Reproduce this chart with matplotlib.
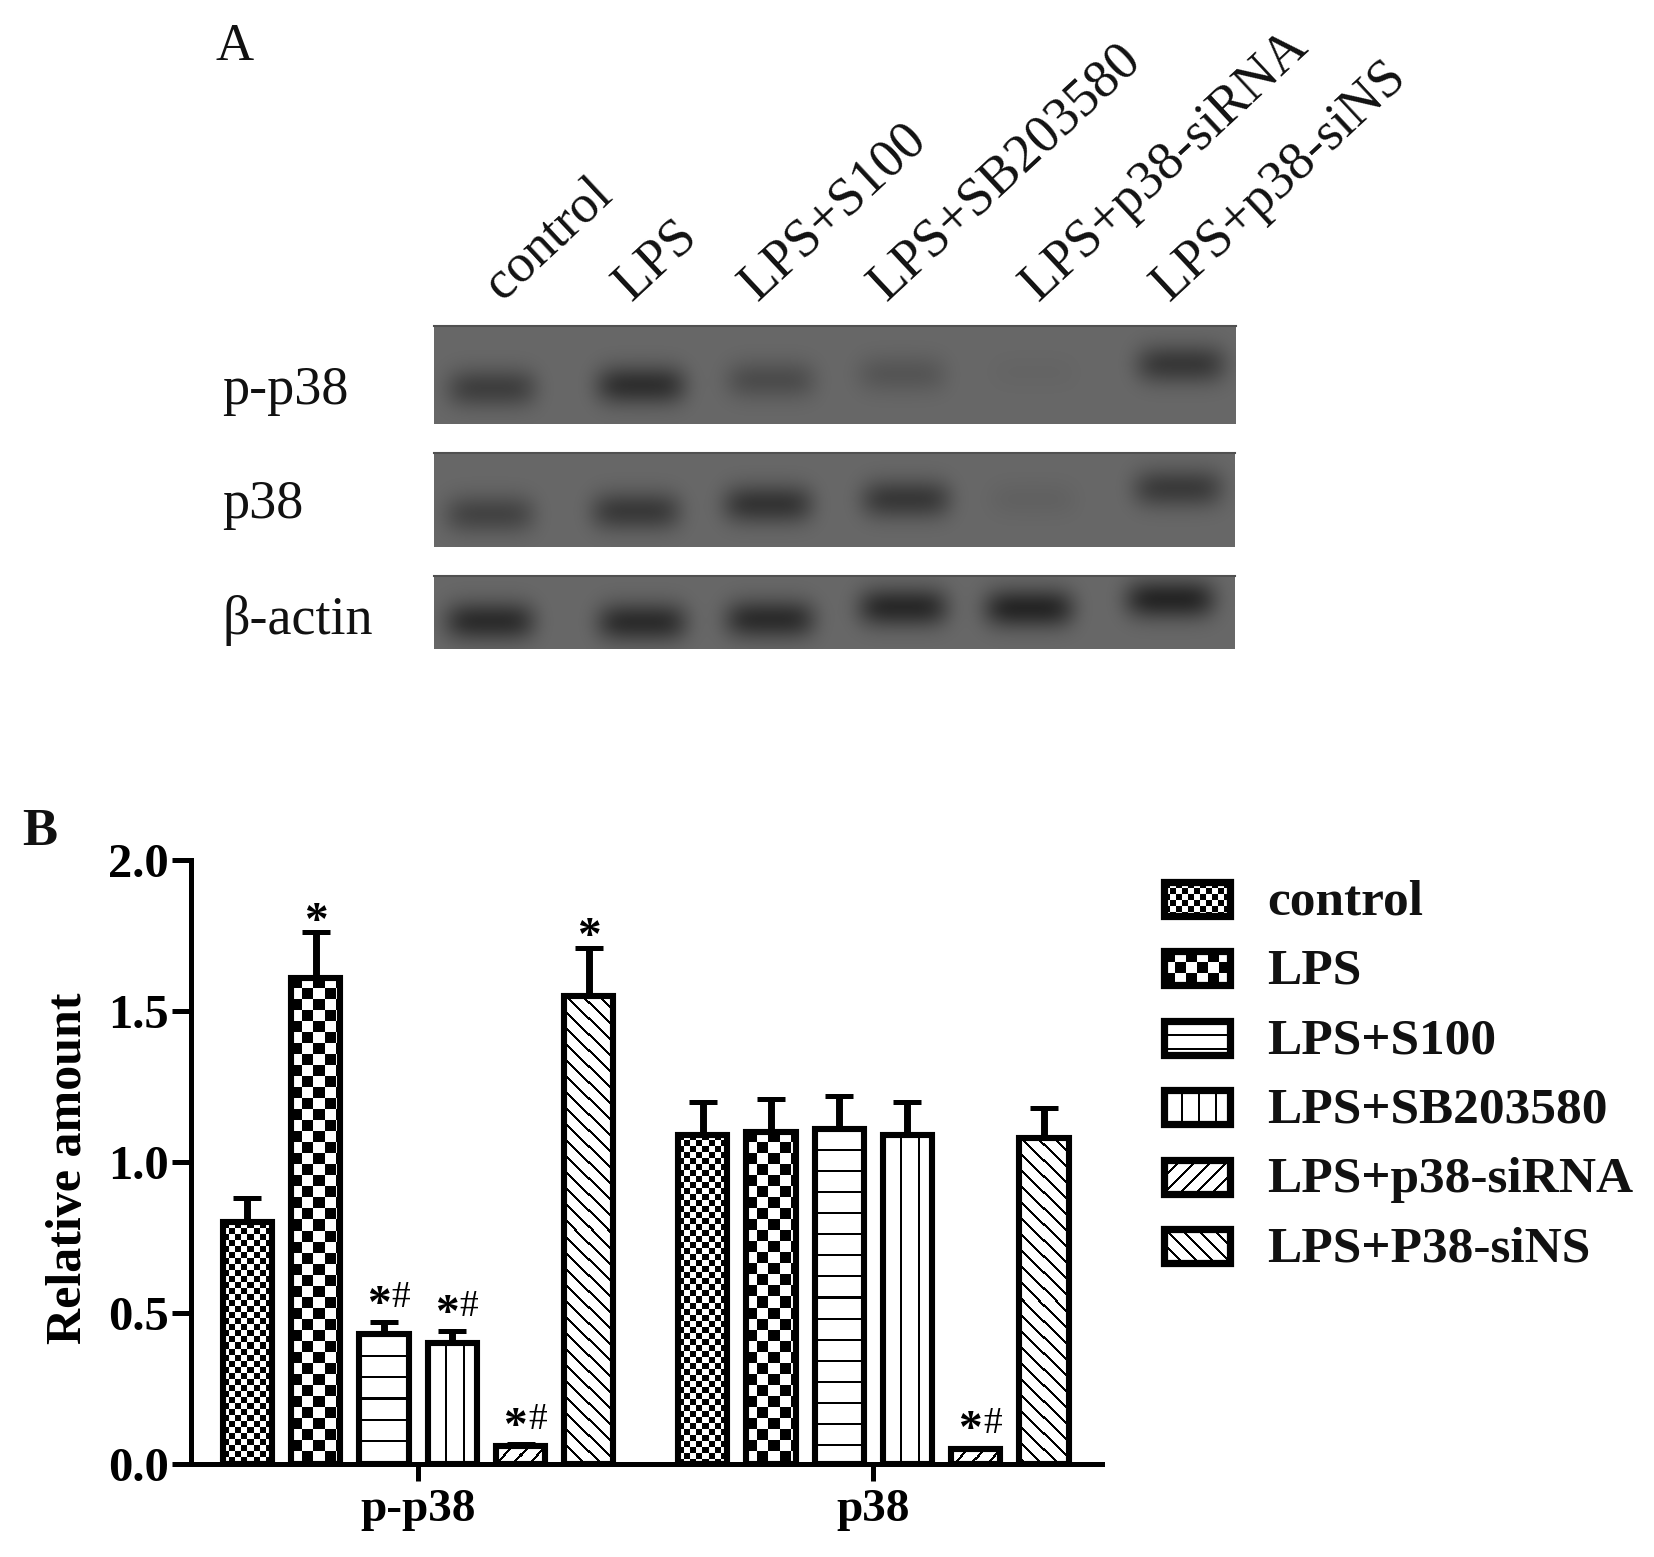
"""Western blot strips and p38 bar chart, two panel figure."""

import matplotlib

matplotlib.use("Agg", force=True)
import matplotlib.pyplot as plt
import numpy as np
from matplotlib.patches import Rectangle

plt.rcParams["font.family"] = ["Liberation Serif", "DejaVu Serif"]

# panel B values
groups = ["p-p38", "p38"]
treatments = ["control", "LPS", "LPS+S100", "LPS+SB203580", "LPS+p38-siRNA", "LPS+P38-siNS"]
p_p38_mean = [0.80, 1.61, 0.43, 0.40, 0.06, 1.55]
p_p38_err = [0.08, 0.15, 0.04, 0.04, 0.005, 0.16]
p38_mean = [1.09, 1.10, 1.11, 1.09, 0.05, 1.08]
p38_err = [0.11, 0.11, 0.11, 0.11, 0.003, 0.10]
p_p38_marks = ["", "*", "*#", "*#", "*#", "*"]
p38_marks = ["", "", "", "", "*#", ""]
y_ticks = [0.0, 0.5, 1.0, 1.5, 2.0]
patterns = ["fine", "coarse", "hlines", "vlines", "fwd", "back"]

# panel A labels and bands (band centre x, y in picture pixels, darkness 0..1)
lane_labels = ["control", "LPS", "LPS+S100", "LPS+SB203580", "LPS+p38-siRNA", "LPS+p38-siNS"]
blot_names = ["p-p38", "p38", "β-actin"]
pp38_x = [492, 641, 771, 902, 1034, 1181]
pp38_y = [388, 385, 380, 374, 372, 364]
pp38_dark = [0.62, 0.85, 0.42, 0.28, 0.05, 0.72]
p38_x = [490, 636, 768, 906, 1033, 1178]
p38_y = [514, 511, 504, 499, 499, 488]
p38_dark = [0.55, 0.70, 0.78, 0.72, 0.10, 0.68]
actin_x = [490, 642, 770, 903, 1029, 1170]
actin_y = [621, 622, 619, 607, 608, 599]
actin_dark = [0.90, 0.90, 0.90, 0.95, 1.00, 1.00]

W, H = 1654, 1557
AX_LEFT, AX_RIGHT, AX_TOP, AX_BOTTOM = 191, 1102, 860, 1464
FS_TICK = 35
FS_LEGEND = 37
FS_BLOT = 39


def pattern_image(kind, w, h, small=False):
    """Black/white fill for a bar, one array cell per screen pixel."""
    yy, xx = np.mgrid[0:h, 0:w]
    img = np.ones((h, w))
    if kind == "fine":
        img[((xx // 6) + (yy // 6)) % 2 == 0] = 0
    elif kind == "coarse":
        img[((xx // 11) + (yy // 11)) % 2 == 0] = 0
    elif kind == "hlines":
        img[yy % (14 if small else 21) < 2] = 0
    elif kind == "vlines":
        img[xx % 17 < 2] = 0
    elif kind == "fwd":
        img[(xx + yy) % 16 < 3] = 0
    elif kind == "back":
        img[(xx - yy) % 16 < 3] = 0
    return img


def draw_blot(page, box, xs, ys, dark):
    x0, x1, y0, y1 = box
    yy, xx = np.mgrid[y0:y1, x0:x1]
    img = np.full(xx.shape, 0.41)
    for cx, cy, d in zip(xs, ys, dark):
        img -= 0.26 * d * np.exp(-(((xx - cx) / 45.0) ** 4) - (((yy - cy) / 20.0) ** 2))
    page.imshow(img, extent=(x0, x1, y1, y0), cmap="gray", vmin=0, vmax=1, aspect="auto")
    page.plot([x0, x1], [y0 + 1, y0 + 1], color="#505050", lw=1.5)


fig = plt.figure(figsize=(W / 100, H / 100), dpi=100)

page = fig.add_axes([0, 0, 1, 1])
page.set_axis_off()

draw_blot(page, (434, 1236, 325, 424), pp38_x, pp38_y, pp38_dark)
draw_blot(page, (434, 1235, 452, 547), p38_x, p38_y, p38_dark)
draw_blot(page, (434, 1235, 575, 649), actin_x, actin_y, actin_dark)

for name, y in zip(blot_names, [391, 505, 620]):
    page.text(222, y, name, fontsize=FS_BLOT, va="center", ha="left", color="#111111")

lane_anchor_x = [503, 631, 757, 886, 1038, 1169]
for lab, x in zip(lane_labels, lane_anchor_x):
    page.text(x, 302, lab, fontsize=38.8, rotation=43, rotation_mode="anchor",
              ha="left", va="baseline", color="#111111")

page.text(216, 47, "A", fontsize=38, va="center", color="#111111")
page.text(22, 832, "B", fontsize=38, fontweight="bold", va="center", color="#111111")

# legend, drawn by hand so the swatches use the same fills as the bars
for i, (lab, kind) in enumerate(zip(treatments, patterns)):
    top = 878 + i * 69.5
    img = pattern_image(kind, 66, 34, small=True)
    page.imshow(img, extent=(1164, 1230, top + 37.5, top + 3.5), cmap="gray", vmin=0, vmax=1,
                aspect="auto", interpolation="nearest")
    page.add_patch(Rectangle((1164, top + 3.5), 66, 34, fill=False, ec="black", lw=5.2))
    page.text(1267, top + 24, lab, fontsize=FS_LEGEND, fontweight="bold", va="center", color="#111111")

page.set_xlim(0, W)
page.set_ylim(H, 0)

# panel B
ax_w = AX_RIGHT - AX_LEFT
ax = fig.add_axes([AX_LEFT / W, 1 - AX_BOTTOM / H, ax_w / W, (AX_BOTTOM - AX_TOP) / H])
ax.patch.set_alpha(0)
bar_w = 0.108
step = 0.15
ax.set_xlim(-0.499, 1.5023)
ax.set_ylim(0, 2)

for g, (means, errs, marks) in enumerate(
    [(p_p38_mean, p_p38_err, p_p38_marks), (p38_mean, p38_err, p38_marks)]
):
    for i, (m, e, kind, mark) in enumerate(zip(means, errs, patterns, marks)):
        x = g + (i - 2.5) * step
        p0 = ax.transData.transform((x - bar_w / 2, 0))
        p1 = ax.transData.transform((x + bar_w / 2, m))
        img = pattern_image(kind, int(p1[0] - p0[0]), max(int(p1[1] - p0[1]), 1))
        ax.imshow(img, extent=(x - bar_w / 2, x + bar_w / 2, 0, m), cmap="gray", vmin=0, vmax=1,
                  aspect="auto", interpolation="nearest", zorder=1)
        ax.bar(x, m, bar_w, fill=False, edgecolor="black", linewidth=4.4, zorder=2)
        ax.errorbar(x, m, yerr=[[0], [e]], color="black", elinewidth=5, capsize=10,
                    capthick=3.6, zorder=2, clip_on=False)
        top = m + e
        if mark == "*":
            ax.annotate("*", (x, top), xytext=(0, -1), textcoords="offset points", ha="center",
                        va="baseline", fontsize=34, fontweight="bold")
        elif mark == "*#":
            ax.annotate("*", (x, top), xytext=(-4, 4), textcoords="offset points", ha="center",
                        va="baseline", fontsize=34, fontweight="bold")
            ax.annotate("#", (x, top), xytext=(12, 11), textcoords="offset points", ha="center",
                        va="baseline", fontsize=27)

ax.set_xlim(-0.499, 1.5023)
ax.set_ylim(0, 2)
ax.spines["top"].set_visible(False)
ax.spines["right"].set_visible(False)
ax.spines["left"].set_linewidth(3.6)
ax.spines["bottom"].set_linewidth(3.6)
ax.set_xticks([0, 1])
ax.set_xticklabels(groups, fontsize=34, fontweight="bold")
ax.set_yticks(y_ticks)
ax.set_yticklabels([f"{v:.1f}" for v in y_ticks], fontsize=FS_TICK, fontweight="bold")
ax.tick_params(axis="y", length=14, width=3.6, pad=2)
ax.tick_params(axis="x", length=12, width=3.6, pad=6)
ax.set_ylabel("Relative amount", fontsize=36, fontweight="bold")
ax.yaxis.set_label_coords(-(AX_LEFT - 92) / ax_w, 0.49)

fig.savefig("out.png", dpi=100)
plt.close(fig)
